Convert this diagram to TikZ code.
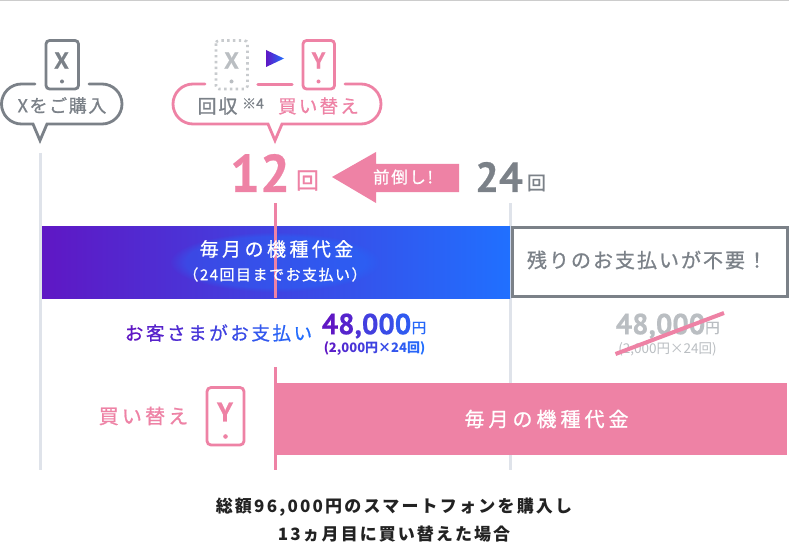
\documentclass[tikz,border=0pt]{standalone}
\usepackage{fontspec}
\setmainfont{Noto Sans CJK JP}
\newfontfamily\din[BoldFeatures={FakeBold=0.5}]{PT Sans}
\newfontfamily\jpm[FakeBold=0.9]{Noto Sans CJK JP}
\usetikzlibrary{shadings,fadings}
\definecolor{pk}{HTML}{EE82A5}
\definecolor{gy}{HTML}{7B8188}
\definecolor{lgy}{HTML}{BABEC2}
\definecolor{ln}{HTML}{DFE3EA}
\definecolor{gp}{HTML}{5F17C4}
\definecolor{gb}{HTML}{2070FF}
\definecolor{ink}{HTML}{222222}
\newcommand{\LS}[1]{\addfontfeature{LetterSpace=#1}}
\newcommand{\G}[2]{\textcolor{gb!#1!gp}{#2}}
\newcommand{\GK}[2]{\textcolor{gb!#1!gp}{#2}\kern2.6pt}
\tikzset{
  x=1pt,y=-1pt,
  lab/.style={inner sep=0pt,outer sep=0pt,anchor=center},
  phone/.style={rounded corners=3.5pt,line width=2.8pt},
  vline/.style={line width=3pt},
  bubble/.style={line width=2.8pt,line cap=round,line join=miter},
}
\begin{document}
\begin{tikzpicture}
\useasboundingbox (0,0) rectangle (789,548);
\fill[white] (0,0) rectangle (789,548);
\draw[line width=1pt,color=black!20] (0,1) -- (789,1);
% vertical guides
\draw[vline,ln] (40.5,153) -- (40.5,470);
\draw[vline,ln] (510.5,203) -- (510.5,470);
% bars
\path[left color=gp,right color=gb] (42,226) rectangle (510,298);
\fill[gb,fill opacity=0.35,path fading=circle with fuzzy edge 15 percent] (170,232) rectangle (380,292);
\draw[line width=3pt,gy,fill=white] (512.5,227.5) rectangle (787,296.5);
\fill[pk] (275,383) rectangle (787,455);
\draw[vline,pk] (275,203) -- (275,298);
\draw[vline,pk] (275,367) -- (275,470);
% left phone and bubble
\draw[phone,gy] (46,40.5) rectangle (78.5,89);
\fill[gy] (62,81.5) circle (2pt);
\node[lab,gy,font={\din\bfseries\fontsize{23}{23}\selectfont}] (xa) at (61.5,60.5) {X};
\draw[bubble,gy] (35,84) -- (21.5,84) arc[start angle=-90,end angle=-270,radius=20] -- (33,124) -- (40,140.5) -- (47,124) -- (102,124) arc[start angle=90,end angle=-90,radius=20] -- (89,84);
\node[lab,gy,font={\jpm\fontsize{18}{18}\selectfont}] (buy) at (62,105.5) {\LS{9}Xをご購入};
% second phones and bubble
\draw[line width=2.6pt,lgy!80,dash pattern=on 2.4pt off 3.4pt,rounded corners=3pt] (216,40.5) rectangle (247.5,89);
\fill[lgy] (231.5,81.5) circle (2pt);
\node[lab,lgy,font={\din\bfseries\fontsize{23}{23}\selectfont}] (xb) at (231.5,60.5) {X};
\path[left color=gp,right color=gb] (266,50) -- (284,58.5) -- (266,67) -- cycle;
\draw[phone,pk] (303,40.5) rectangle (334.5,89);
\fill[pk] (318.5,81.5) circle (2pt);
\node[lab,pk,font={\din\bfseries\fontsize{23}{23}\selectfont}] (ya) at (318.5,60.5) {Y};
\draw[bubble,pk] (205,84) -- (193,84) arc[start angle=-90,end angle=-270,radius=20] -- (268,124) -- (275,140.5) -- (282,124) -- (361,124) arc[start angle=90,end angle=-90,radius=20] -- (345,84);
\draw[bubble,pk,line width=3.2pt] (258,84.2) -- (292,84.2);
\node[lab,gy,font={\jpm\fontsize{19}{19}\selectfont}] (kai) at (217.5,106) {\LS{10}回収};
\node[lab,gy,font={\jpm\fontsize{14}{14}\selectfont}] (note) at (253,103.5) {※4};
\node[lab,pk,font={\jpm\fontsize{18.5}{18.5}\selectfont}] (kae) at (318.5,106) {\LS{12}買い替え};
% counts
\node[lab,pk,font={\din\bfseries\fontsize{53}{53}\selectfont}] (n12) at (260,173) {12};
\node[lab,pk,font={\jpm\fontsize{23}{23}\selectfont}] (k12) at (307.5,180.5) {回};
\node[lab,gy,font={\din\bfseries\fontsize{42}{42}\selectfont}] (n24) at (499,177) {24};
\node[lab,gy,font={\jpm\fontsize{19}{19}\selectfont}] (k24) at (536.5,183) {回};
% arrow
\fill[pk] (332,177) -- (376,152) -- (376,164) -- (459,164) -- (459,192) -- (376,192) -- (376,203) -- cycle;
\node[lab,white,font={\jpm\fontsize{16.5}{16.5}\selectfont}] (mae) at (403,177) {\LS{10}前倒し!};
% bar text
\node[lab,white,font={\jpm\fontsize{19}{19}\selectfont}] (t1) at (276.5,249) {\LS{18}毎月の機種代金};
\node[lab,white,font={\jpm\fontsize{15}{15}\selectfont}] (t2) at (275,274.5) {\LS{10}（24回目までお支払い）};
\node[lab,gy,font={\jpm\fontsize{20}{20}\selectfont}] (t3) at (647,260) {\LS{10}残りのお支払いが不要！};
\node[lab,white,font={\jpm\fontsize{20}{20}\selectfont}] (t4) at (546.5,419) {\LS{20}毎月の機種代金};
% customer pays
\node[lab,font={\jpm\fontsize{18.5}{18.5}\selectfont}] (t5) at (218.5,333) {\GK{0}{お}\GK{12}{客}\GK{24}{さ}\GK{36}{ま}\GK{48}{が}\GK{60}{お}\GK{72}{支}\GK{84}{払}\G{96}{い}};
\node[lab,font={\din\bfseries\fontsize{29}{29}\selectfont}] (t6) at (366.5,326) {\G{0}{4}\G{15}{8}\G{30}{,}\G{45}{0}\G{60}{0}\G{75}{0}};
\node[lab,font={\jpm\fontsize{14.5}{14.5}\selectfont}] (t7) at (419,328) {\G{90}{円}};
\node[lab,font={\bfseries\fontsize{13}{13}\selectfont}] (t8) at (374.5,349) {\G{0}{(}\G{8}{2}\G{16}{,}\G{24}{0}\G{32}{0}\G{40}{0}\G{50}{円}\G{60}{×}\G{70}{2}\G{78}{4}\G{88}{回}\G{98}{)}};
% struck price
\node[lab,lgy,font={\din\bfseries\fontsize{29}{29}\selectfont}] (t9) at (660.5,326) {48,000};
\node[lab,lgy,font={\jpm\fontsize{14.5}{14.5}\selectfont}] (t10) at (712.5,328) {円};
\node[lab,lgy,font={\fontsize{13.5}{13.5}\selectfont}] (t11) at (667.5,349) {(2,000円×24回)};
\draw[line width=4pt,pk] (615.5,354) -- (724,313);
% replace row
\node[lab,pk,font={\jpm\fontsize{20}{20}\selectfont}] (t12) at (143.5,416) {\LS{16}買い替え};
\draw[phone,pk,rounded corners=4pt] (207,387.5) rectangle (244,445);
\fill[pk] (225.5,436.5) circle (2.3pt);
\node[lab,pk,font={\din\bfseries\fontsize{27}{27}\selectfont}] (yb) at (225,412) {Y};
% caption
\node[lab,ink,font={\bfseries\fontsize{17}{17}\selectfont}] (c1) at (394,507.5) {\LS{13}総額96,000円のスマートフォンを購入し};
\node[lab,ink,font={\bfseries\fontsize{17}{17}\selectfont}] (c2) at (394,534.5) {\LS{12}13ヵ月目に買い替えた場合};
\end{tikzpicture}
\end{document}
